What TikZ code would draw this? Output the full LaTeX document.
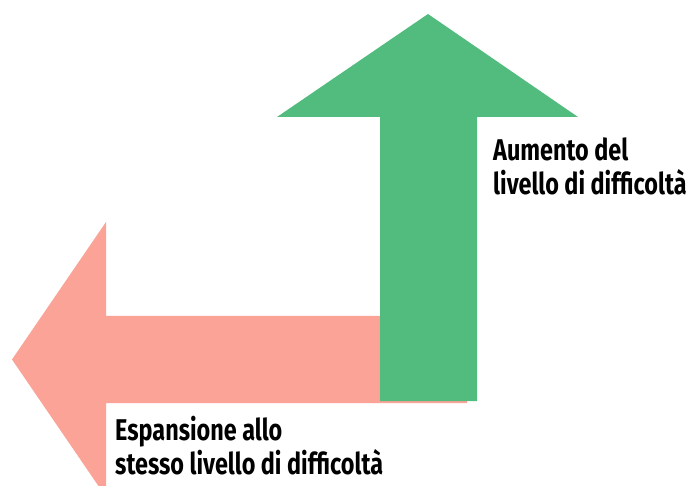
\documentclass[tikz,border=0pt]{standalone}
\usepackage{fontspec}
\newfontfamily\labelfont[FakeStretch=0.78]{Fira Sans}
\definecolor{pinkarrow}{RGB}{250,163,150}
\definecolor{greenarrow}{RGB}{82,188,127}
\begin{document}
\begin{tikzpicture}[x=1pt,y=-1pt]
\tikzset{lbl/.style={anchor=base west,inner sep=0pt,align=left,font=\labelfont\bfseries\fontsize{30}{34}\selectfont,text=black}}
\useasboundingbox (0,0) rectangle (691,486);
\begin{scope}
\clip (0,0) rectangle (691,486);
\fill[pinkarrow] (467,316) -- (106,316) -- (106,222) -- (12,359.5) -- (106,497) -- (106,403) -- (467,403) -- cycle;
\end{scope}
\fill[greenarrow] (380,401) -- (380,117) -- (277,117) -- (428,14) -- (578,117) -- (477,117) -- (477,401) -- cycle;
\node[lbl] (up) at (493,195) {Aumento del\\livello di difficoltà};
\node[lbl] (left) at (115,474) {Espansione allo\\stesso livello di difficoltà};
\end{tikzpicture}
\end{document}
